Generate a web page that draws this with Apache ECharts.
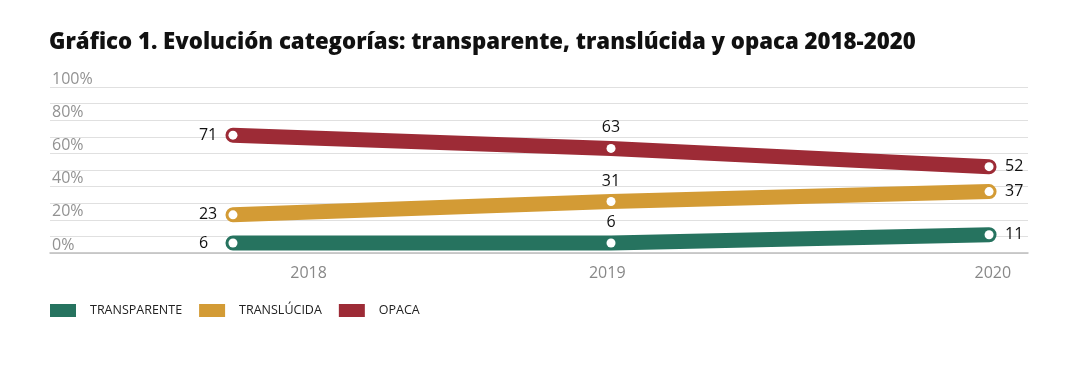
<!DOCTYPE html>
<html><head><meta charset="utf-8">
<script src="https://cdn.jsdelivr.net/npm/echarts@6/dist/echarts.min.js"></script>
<style>html,body{margin:0;padding:0;background:#fff}#c{width:1086px;height:370px}</style>
</head><body><div id="c"></div>
<script>
const years = ['2018', '2019', '2020'];
const seriesNames = ['TRANSPARENTE', 'TRANSLÚCIDA', 'OPACA'];
const transparente = [6, 6, 11];
const translucida = [23, 31, 37];
const opaca = [71, 63, 52];
const yTicks = [0, 20, 40, 60, 80, 100];
const colors = ['#26735f', '#d39b35', '#9d2b36'];

const chart = echarts.init(document.getElementById('c'), null, {renderer: 'canvas'});
const labelPos = [0.2, 0.99, 2.01];
function mk(name, vals, color) {
  return {
    name: name, type: 'line',
    data: vals.map((v, i) => ({
      value: [i, v],
      label: i === 0 ? {position: 'left', distance: 29.5, align: 'left'}
           : i === 1 ? {position: 'top', distance: 8}
           : {position: 'right', distance: 11.5}
    })),
    symbol: 'circle', symbolSize: 9,
    itemStyle: {color: '#fff'},
    lineStyle: {color: color, width: 15, cap: 'round', join: 'round'},
    label: {show: true, color: '#111', fontSize: 16, fontFamily: 'Open Sans',
            formatter: p => p.value[1]},
    emphasis: {disabled: true},
    animation: false
  };
}
chart.setOption({
  animation: false,
  title: {
    text: 'Gráfico 1. Evolución categorías: transparente, translúcida y opaca 2018-2020',
    left: 49, top: 32, padding: 0,
    textStyle: {fontFamily: 'Open Sans', fontWeight: 800, fontSize: 22.2, color: '#111'}
  },
  legend: {
    left: 50, top: 304, padding: 0, itemWidth: 26, itemHeight: 13, itemGap: 17, icon: 'rect',
    data: seriesNames.map((n, i) => ({name: n, itemStyle: {color: colors[i]}})),
    textStyle: {fontFamily: 'Open Sans', fontSize: 12.5, color: '#222', padding: [0, 0, 0, 9]},
    selectedMode: false
  },
  grid: {left: 50, right: 58, top: 87, bottom: 117},
  xAxis: {
    type: 'value', min: -0.484, max: 2.103,
    axisLine: {show: true, onZero: false, lineStyle: {color: '#bdbdbd', width: 1.5}},
    axisTick: {show: false},
    splitLine: {show: false},
    axisLabel: {
      customValues: labelPos, margin: 12, color: '#888', fontSize: 16, fontFamily: 'Open Sans',
      formatter: v => { let k = 0, d = 1e9; labelPos.forEach((p, i) => { if (Math.abs(p - v) < d) { d = Math.abs(p - v); k = i; } }); return years[k]; }
    }
  },
  yAxis: {
    type: 'value', min: 0, max: 100, interval: 10,
    axisLine: {show: false}, axisTick: {show: false},
    splitLine: {lineStyle: {color: '#e0e0e0', width: 1}},
    axisLabel: {
      inside: true, margin: 2, color: '#929292', fontSize: 16, fontFamily: 'Open Sans',
      verticalAlign: 'bottom', align: 'left', lineHeight: 16,
      formatter: v => yTicks.indexOf(v) >= 0 ? v + '%' : ''
    }
  },
  series: [
    mk(seriesNames[0], transparente, colors[0]),
    mk(seriesNames[1], translucida, colors[1]),
    mk(seriesNames[2], opaca, colors[2])
  ]
});
</script></body></html>
